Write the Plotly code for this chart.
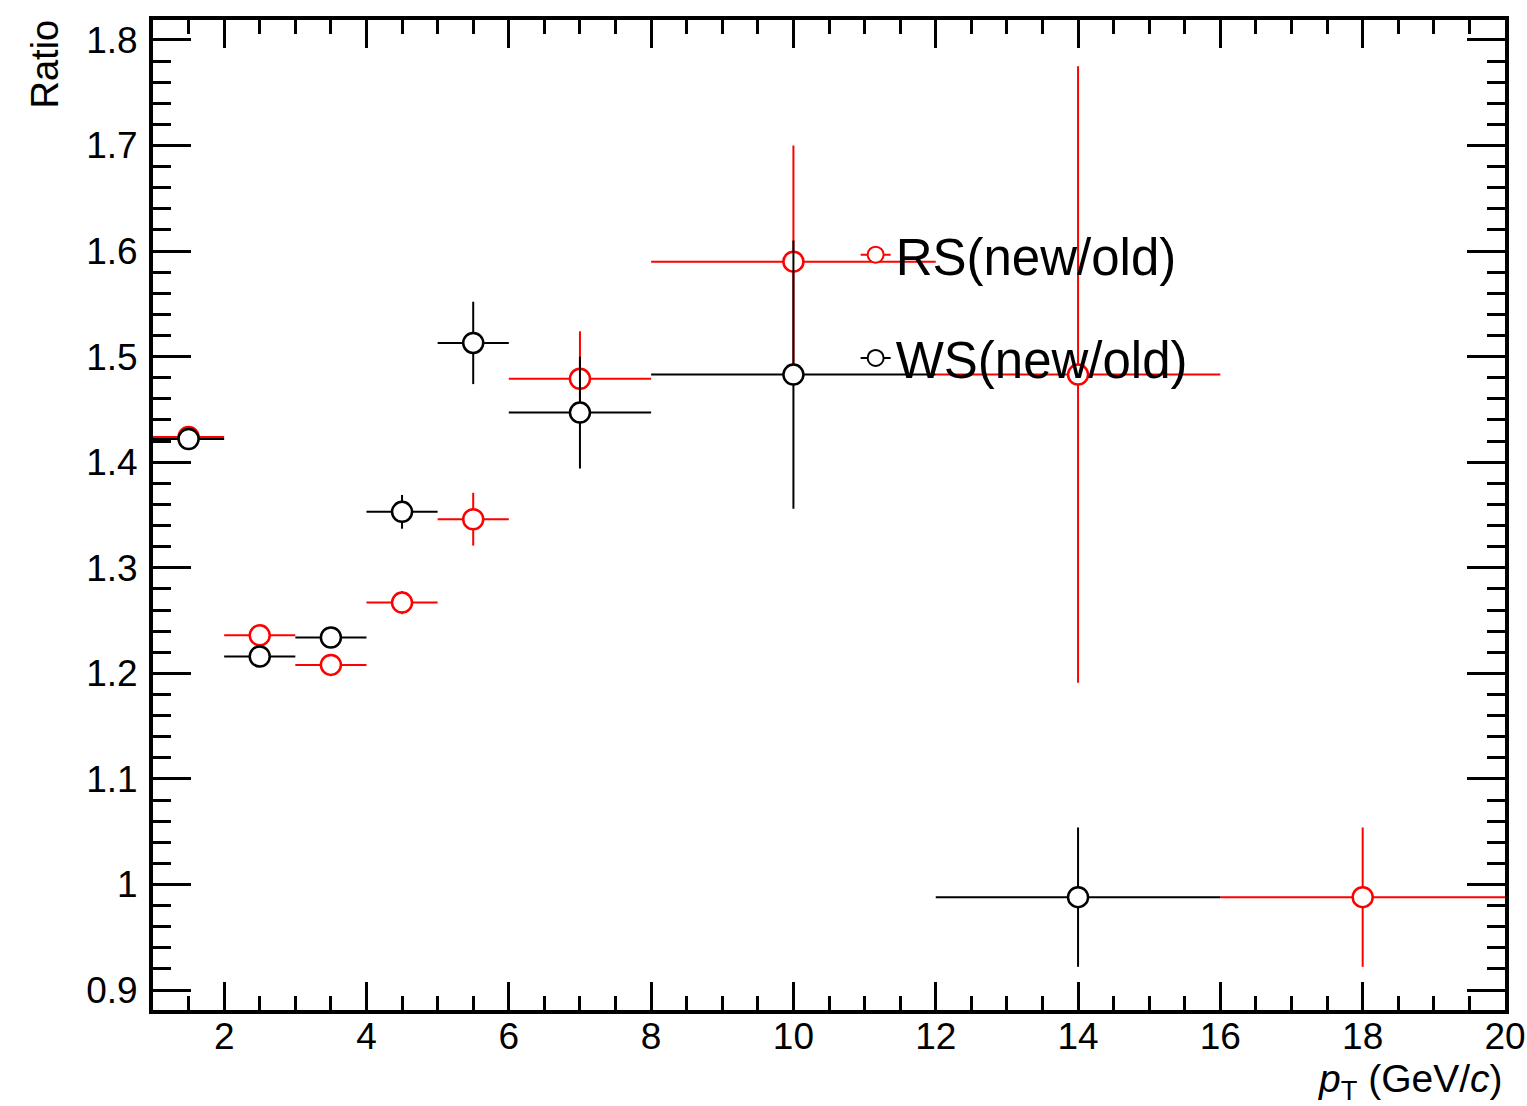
import plotly.graph_objects as go

# ---- data ----
rs_x = [1.5, 2.5, 3.5, 4.5, 5.5, 7.0, 10.0, 14.0, 18.0]
rs_xerr = [0.5, 0.5, 0.5, 0.5, 0.5, 1.0, 2.0, 2.0, 2.0]
rs_y = [1.424, 1.236, 1.208, 1.267, 1.346, 1.479, 1.590, 1.483, 0.988]
rs_yerr = [0.004, 0.004, 0.004, 0.011, 0.025, 0.045, 0.110, 0.292, 0.066]

ws_x = [1.5, 2.5, 3.5, 4.5, 5.5, 7.0, 10.0, 14.0]
ws_xerr = [0.5, 0.5, 0.5, 0.5, 0.5, 1.0, 2.0, 2.0]
ws_y = [1.422, 1.216, 1.234, 1.353, 1.513, 1.447, 1.483, 0.988]
ws_yerr = [0.004, 0.004, 0.004, 0.016, 0.039, 0.053, 0.127, 0.066]

series_names = ["RS(new/old)", "WS(new/old)"]
series_colors = ["#ff0000", "#000000"]

FONT = "Liberation Sans, Arial, Helvetica, sans-serif"

fig = go.Figure()

datasets = [
    (rs_x, rs_xerr, rs_y, rs_yerr),
    (ws_x, ws_xerr, ws_y, ws_yerr),
]
for (x, xe, y, ye), name, col in zip(datasets, series_names, series_colors):
    fig.add_trace(go.Scatter(
        x=x, y=y, mode="markers", name=name, showlegend=False,
        error_x=dict(type="data", array=xe, symmetric=True, color=col, thickness=2, width=0),
        error_y=dict(type="data", array=ye, symmetric=True, color=col, thickness=2, width=0),
        marker=dict(symbol="circle", size=20, color="white", line=dict(color=col, width=2.5)),
    ))

# legend entries
for i, (name, col) in enumerate(zip(series_names, series_colors)):
    fig.add_trace(go.Scatter(
        x=[None], y=[None], mode="lines+markers", name=name, legendgroup=f"g{i}",
        line=dict(color=col, width=2),
        marker=dict(symbol="circle", size=20, color="white", line=dict(color=col, width=2)),
    ))

axis_common = dict(
    showline=True, linewidth=4, linecolor="black", mirror="allticks",
    ticks="inside", tickwidth=3, tickcolor="black",
    showgrid=False, zeroline=False, automargin=False,
    tickfont=dict(family=FONT, size=37, color="black"),
)

fig.update_xaxes(
    range=[1, 20], tick0=0, dtick=2, ticklen=28,
    minor=dict(ticks="inside", dtick=0.5, tick0=0, ticklen=14, tickwidth=3, tickcolor="black", showgrid=False),
    ticklabeloverflow="allow",
    **axis_common,
)
fig.update_yaxes(
    range=[0.8811, 1.8189], tick0=0, dtick=0.1, ticklen=38,
    minor=dict(ticks="inside", dtick=0.02, tick0=0, ticklen=18, tickwidth=3, tickcolor="black", showgrid=False),
    ticklabelstandoff=4, ticklabeloverflow="allow",
    **axis_common,
)
try:
    fig.layout.xaxis.ticklabelstandoff = -9
except Exception:
    fig.layout.xaxis.ticklabelstandoff = 0

fig.add_annotation(
    text="<i>p</i><sub>T</sub> (GeV/<i>c</i>)", xref="paper", yref="paper",
    x=1.0, y=0, xanchor="right", yanchor="middle", yshift=-71, showarrow=False,
    font=dict(family=FONT, size=39, color="black"),
)
fig.add_annotation(
    text="Ratio", xref="paper", yref="paper", textangle=-90,
    x=0, y=1.0, xanchor="center", yanchor="top", xshift=-109, yshift=2, showarrow=False,
    font=dict(family=FONT, size=38, color="black"),
)

fig.update_layout(
    width=1527, height=1106,
    margin=dict(l=153, r=22, t=20, b=96),
    plot_bgcolor="white", paper_bgcolor="white",
    showlegend=True,
    legend=dict(
        x=0.5197, y=0.803, xanchor="left", yanchor="top",
        bgcolor="rgba(0,0,0,0)", borderwidth=0,
        font=dict(family=FONT, size=51, color="black"),
        traceorder="grouped", tracegroupgap=34,
    ),
)

fig.write_html("out.html")
